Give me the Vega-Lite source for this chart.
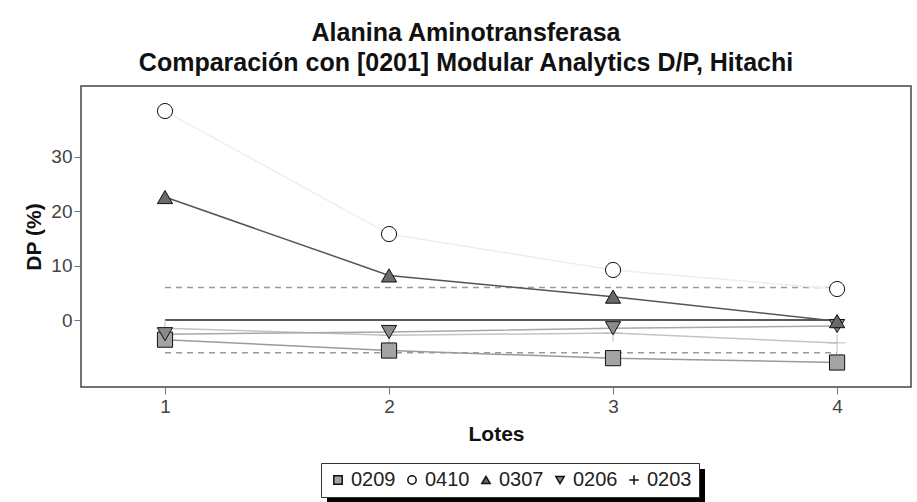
{
  "$schema": "https://vega.github.io/schema/vega-lite/v6.json",
  "width": 830,
  "height": 301,
  "autosize": {"type": "none"},
  "padding": {"left": 81, "top": 86, "right": 6, "bottom": 115},
  "background": "white",
  "config": {
    "font": "Liberation Sans",
    "view": {"stroke": "#444444", "strokeWidth": 1.5},
    "axis": {
      "grid": false,
      "domain": false,
      "tickColor": "#777777",
      "tickSize": 7,
      "labelFont": "Liberation Sans",
      "labelFontSize": 19,
      "labelColor": "#444444",
      "labelFlush": false,
      "titleFont": "Liberation Sans",
      "titleFontSize": 21,
      "titleFontWeight": "bold",
      "titleColor": "#111111"
    }
  },
  "title": {
    "text": ["Alanina Aminotransferasa", "Comparación con [0201] Modular Analytics D/P, Hitachi"],
    "font": "Liberation Sans",
    "fontSize": 25,
    "fontWeight": "bold",
    "lineHeight": 30,
    "anchor": "middle",
    "dx": -30,
    "offset": 10,
    "color": "#111111"
  },
  "datasets": {
    "main": [
      {"serie": "0410", "lote": 1, "dp": 38.4},
      {"serie": "0410", "lote": 2, "dp": 15.8},
      {"serie": "0410", "lote": 3, "dp": 9.2},
      {"serie": "0410", "lote": 4, "dp": 5.7},
      {"serie": "0203", "lote": 1, "dp": -1.5},
      {"serie": "0203", "lote": 2, "dp": -2.8},
      {"serie": "0203", "lote": 3, "dp": -2.4},
      {"serie": "0203", "lote": 4, "dp": -4.2},
      {"serie": "0209", "lote": 1, "dp": -3.6},
      {"serie": "0209", "lote": 2, "dp": -5.6},
      {"serie": "0209", "lote": 3, "dp": -7.0},
      {"serie": "0209", "lote": 4, "dp": -7.8},
      {"serie": "0206", "lote": 1, "dp": -2.6},
      {"serie": "0206", "lote": 2, "dp": -2.2},
      {"serie": "0206", "lote": 3, "dp": -1.5},
      {"serie": "0206", "lote": 4, "dp": -1.1},
      {"serie": "0307", "lote": 1, "dp": 22.6},
      {"serie": "0307", "lote": 2, "dp": 8.2},
      {"serie": "0307", "lote": 3, "dp": 4.3},
      {"serie": "0307", "lote": 4, "dp": -0.2}
    ],
    "limits": [
      {"lote": 1, "lote2": 4, "dp": 6},
      {"lote": 1, "lote2": 4, "dp": -6}
    ],
    "zero": [
      {"lote": 1, "lote2": 4, "dp": 0}
    ]
  },
  "encoding": {
    "x": {
      "field": "lote",
      "type": "quantitative",
      "scale": {"domain": [0.625, 4.33], "nice": false, "zero": false},
      "axis": {"values": [1, 2, 3, 4], "format": "d", "labelPadding": 3, "titlePadding": 7},
      "title": "Lotes"
    },
    "y": {
      "field": "dp",
      "type": "quantitative",
      "scale": {"domain": [-12.3, 43], "nice": false, "zero": false},
      "axis": {"values": [0, 10, 20, 30], "labelPadding": 2, "titlePadding": 6},
      "title": "DP (%)"
    }
  },
  "layer": [
    {
      "data": {"name": "main"},
      "mark": {"type": "point", "opacity": 0, "filled": true},
      "encoding": {
        "color": {
          "field": "dp",
          "type": "quantitative",
          "scale": {"range": ["black", "black"]},
          "legend": {
            "type": "gradient",
            "orient": "none",
            "legendX": 246,
            "legendY": 383,
            "direction": "horizontal",
            "title": null,
            "padding": 0,
            "gradientLength": 378,
            "gradientThickness": 34,
            "gradientStrokeColor": "black",
            "gradientStrokeWidth": 0,
            "labelExpr": "''",
            "labelOverlap": false,
            "encode": {"gradient": {"update": {"opacity": {"value": 1}}}}
          }
        }
      }
    },
    {
      "data": {"name": "limits"},
      "mark": {"type": "rule", "color": "#9a9a9a", "strokeDash": [6, 5], "strokeWidth": 1.5},
      "encoding": {"x2": {"field": "lote2"}}
    },
    {
      "data": {"name": "zero"},
      "mark": {"type": "rule", "color": "#222222", "strokeWidth": 1.5},
      "encoding": {"x2": {"field": "lote2"}}
    },
    {
      "data": {"name": "main"},
      "mark": {"type": "line", "strokeWidth": 1.5},
      "encoding": {
        "stroke": {
          "field": "serie",
          "type": "nominal",
          "scale": {
            "range": ["#c4c4c4", "#a8a8a8", "#9a9a9a", "#555555", "#eceef4"]
          },
          "legend": null
        }
      }
    },
    {
      "data": {"name": "main"},
      "mark": {"type": "point", "filled": true, "opacity": 1, "size": 230, "strokeWidth": 1},
      "encoding": {
        "fill": {
          "field": "serie",
          "type": "nominal",
          "scale": {
            "domain": ["0209", "0410", "0307", "0206", "0203"],
            "range": ["#a4a4a4", "#ffffff", "#6a6a6a", "#8a8a8a", "#c8c8c8"]
          },
          "legend": {
            "orient": "none",
            "legendX": 240,
            "legendY": 377,
            "direction": "horizontal",
            "title": null,
            "fillColor": "white",
            "strokeColor": "#333333",
            "padding": 7,
            "labelFont": "Liberation Sans",
            "labelFontSize": 20,
            "labelColor": "#222222",
            "labelOffset": 3,
            "columnPadding": 6,
            "symbolSize": 70,
            "encode": {"symbols": {"update": {
              "size": {"value": 70},
              "strokeWidth": {"value": 1},
              "opacity": {"value": 1},
              "stroke": {"signal": "datum.value === '0203' ? '#b0b0b0' : '#222222'"}
            }}}
          }
        },
        "shape": {
          "field": "serie",
          "type": "nominal",
          "scale": {
            "domain": ["0209", "0410", "0307", "0206", "0203"],
            "range": ["square", "circle", "triangle-up", "triangle-down", "M-1.15,0H1.15M0,-1.15V1.15"]
          }
        },
        "stroke": {
          "condition": {"test": "datum.serie === '0203'", "value": "#bdbdbd"},
          "value": "#111111"
        }
      }
    }
  ]
}
